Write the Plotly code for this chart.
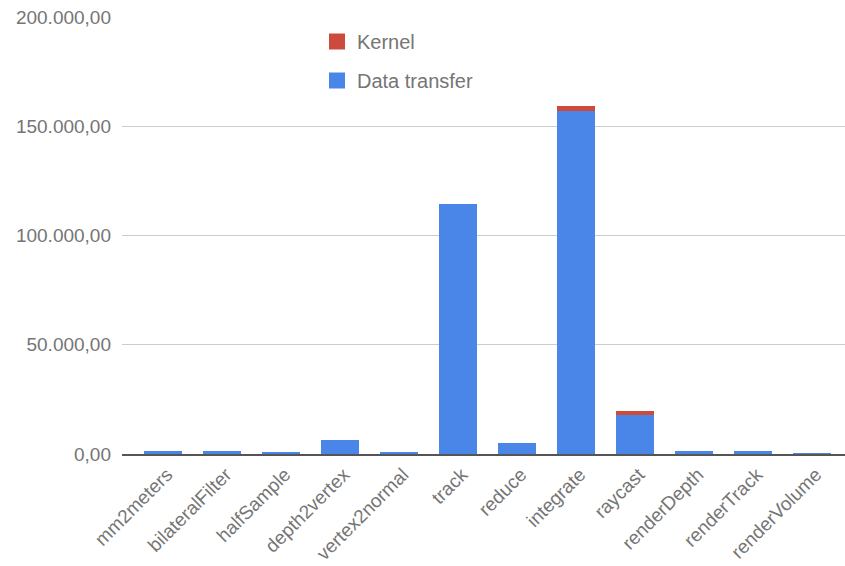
import plotly.graph_objects as go

# Per-kernel timings, stacked: data transfer at the bottom, kernel time on top
categories = [
    "mm2meters", "bilateralFilter", "halfSample", "depth2vertex",
    "vertex2normal", "track", "reduce", "integrate", "raycast",
    "renderDepth", "renderTrack", "renderVolume",
]
data_transfer = [1400, 1400, 600, 6550, 600, 114400, 5000, 157000, 17850, 1400, 1400, 100]
kernel = [0, 0, 0, 0, 0, 0, 0, 2100, 1700, 0, 0, 0]

y_ticks = [0, 50000, 100000, 150000, 200000]

BLUE = "#4a86e8"
RED = "#cd4b3c"
GREY = "#757575"
FONT = "Liberation Sans, Arial, sans-serif"

W, H = 845, 566
M_L, M_R, M_T, M_B = 122, 0, 17, 112
PW, PH = W - M_L - M_R, H - M_T - M_B

fig = go.Figure()
fig.add_trace(go.Bar(x=categories, y=data_transfer, name="Data transfer",
                     marker=dict(color=BLUE, line=dict(width=0)), showlegend=False))
fig.add_trace(go.Bar(x=categories, y=kernel, name="Kernel",
                     marker=dict(color=RED, line=dict(width=0)), showlegend=False))

# Legend entries drawn as square markers (larger than the default bar swatch)
fig.add_trace(go.Scatter(x=[None], y=[None], mode="markers", name="Kernel",
                         legendgroup="k",
                         marker=dict(symbol="square", size=16, color=RED)))
fig.add_trace(go.Scatter(x=[None], y=[None], mode="markers", name="Data transfer",
                         legendgroup="d",
                         marker=dict(symbol="square", size=16, color=BLUE)))

fig.update_layout(
    width=W, height=H,
    margin=dict(l=M_L, r=M_R, t=M_T, b=M_B, pad=0, autoexpand=False),
    paper_bgcolor="white", plot_bgcolor="white",
    barmode="stack", bargap=0.356,
    separators=",.",
    font=dict(family=FONT, size=19, color=GREY),
    showlegend=True,
    legend=dict(
        x=(317 - M_L) / PW, y=1 - (22 - M_T) / PH, xanchor="left", yanchor="top",
        traceorder="grouped", tracegroupgap=10,
        font=dict(family=FONT, size=20, color=GREY),
        bgcolor="rgba(0,0,0,0)", borderwidth=0,
    ),
    xaxis=dict(
        type="category", range=[-0.695, 11.56],
        tickangle=-45, ticks="", showgrid=False,
        showline=True, linecolor="#555555", linewidth=2,
        zeroline=False, automargin=False, ticklabelshift=4,
        tickfont=dict(family=FONT, size=19, color=GREY),
    ),
    yaxis=dict(
        range=[0, 200000], tickvals=y_ticks, tickformat=",.2f",
        showgrid=True, gridcolor="#cccccc", gridwidth=1,
        zeroline=False, showline=False, ticks="",
        ticklabelstandoff=10, automargin=False,
        tickfont=dict(family=FONT, size=19, color=GREY),
    ),
)

fig.write_html("out.html")
